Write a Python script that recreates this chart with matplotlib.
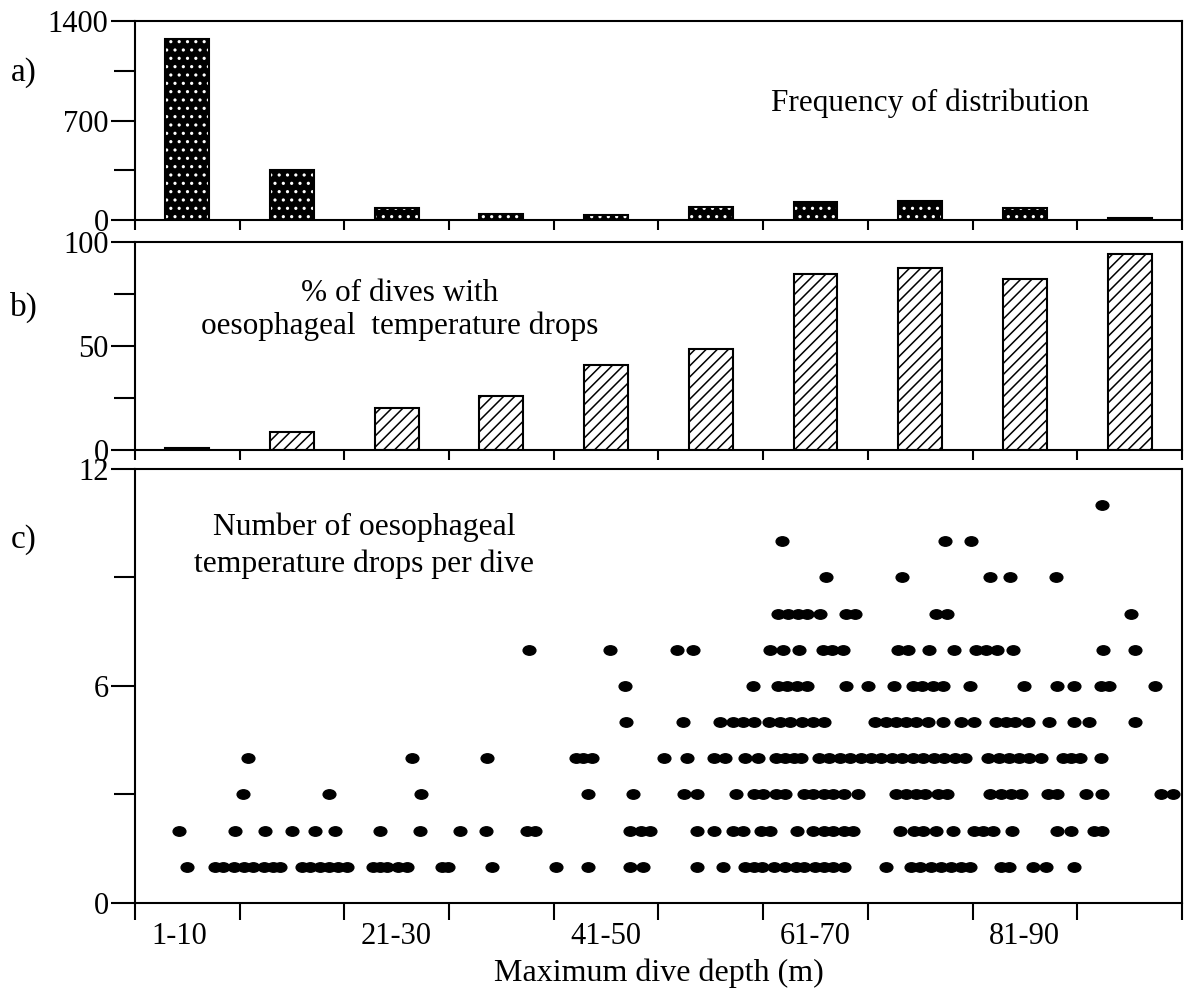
import numpy as np
import matplotlib.pyplot as plt
from matplotlib.markers import MarkerStyle
from matplotlib.transforms import Affine2D

plt.rcParams['font.family'] = ['Liberation Serif', 'DejaVu Serif']
plt.rcParams['hatch.linewidth'] = 1.1

# depth classes (m), bar centres on a 0-100 m axis
bin_centres = [5, 15, 25, 35, 45, 55, 65, 75, 85, 95]
bin_labels = ['1-10', '21-30', '41-50', '61-70', '81-90']
label_starts = [1.6, 21.6, 41.6, 61.6, 81.6]

# a) frequency of dives per depth class
freq = [1270, 352, 84, 42, 35, 91, 129, 136, 84, 16]
# b) % of dives with oesophageal temperature drops
pct_drops = [0.8, 8.5, 20, 26, 41, 48.5, 84.5, 87.5, 82, 94]

# c) max dive depth (m) of dives with n temperature drops
drops1 = [5.0, 7.6, 8.4, 9.5, 10.4, 11.3, 12.3, 13.2, 13.9, 16.0, 16.7, 17.7,
          18.5, 19.4, 20.3, 22.7, 23.4, 24.1, 25.1, 26.0, 29.3, 29.9, 34.1,
          40.2, 43.3, 47.3, 48.5, 53.7, 56.2, 58.3, 59.1, 59.9, 61.0, 62.1,
          63.1, 63.9, 65.0, 65.8, 66.7, 67.7, 71.7, 74.1, 75.0, 76.0, 77.0,
          77.9, 78.9, 79.8, 82.7, 83.5, 85.8, 87.0, 89.7]
drops2 = [4.2, 9.6, 12.4, 15.0, 17.2, 19.1, 23.4, 27.2, 31.0, 33.5, 37.4, 38.2,
          47.3, 48.3, 49.2, 53.7, 55.3, 57.1, 58.1, 59.8, 60.7, 63.2, 64.8,
          65.8, 66.7, 67.7, 68.6, 73.1, 74.4, 75.3, 76.5, 78.1, 80.1, 81.0,
          82.0, 83.8, 88.1, 89.4, 91.6, 92.4]
drops3 = [10.3, 18.5, 27.3, 43.3, 47.6, 52.4, 53.7, 57.4, 59.1, 60.0, 61.2,
          62.1, 63.9, 64.8, 65.8, 66.7, 67.7, 69.1, 72.7, 73.6, 74.6, 75.5,
          76.7, 77.6, 81.7, 82.7, 83.7, 84.6, 87.2, 88.1, 90.8, 92.4, 98.0, 99.1]
drops4 = [10.8, 26.5, 33.6, 42.1, 42.8, 43.7, 50.5, 52.7, 55.3, 56.4, 58.3,
          59.5, 61.2, 62.1, 62.9, 63.6, 65.3, 66.3, 67.3, 68.3, 69.3, 70.3,
          71.3, 72.3, 73.3, 74.3, 75.3, 76.3, 77.3, 78.3, 79.3, 81.5, 82.5,
          83.5, 84.4, 85.4, 86.5, 88.6, 89.4, 90.3, 92.3]
drops5 = [46.9, 52.3, 55.9, 57.1, 58.1, 59.1, 60.6, 61.6, 62.6, 63.7, 64.8,
          65.8, 70.7, 71.7, 72.7, 73.6, 74.6, 75.7, 77.2, 78.9, 80.1, 82.2,
          83.2, 84.1, 85.3, 87.3, 89.7, 91.1, 95.5]
drops6 = [46.8, 59.0, 61.4, 62.3, 63.2, 64.2, 67.9, 70.0, 72.5, 74.3, 75.2,
          76.2, 77.2, 79.8, 84.9, 88.1, 89.7, 92.3, 93.0, 97.4]
drops7 = [37.6, 45.4, 51.8, 53.3, 60.7, 61.9, 63.4, 65.7, 66.6, 67.6, 72.9,
          73.8, 75.8, 78.2, 80.3, 81.3, 82.3, 83.9, 92.5, 95.5]
drops8 = [61.4, 62.4, 63.3, 64.2, 65.4, 67.9, 68.8, 76.5, 77.6, 95.1]
drops9 = [66.0, 73.3, 81.7, 83.6, 88.0]
drops10 = [61.8, 77.4, 79.9]
drops11 = [92.4]
drop_rows = [drops1, drops2, drops3, drops4, drops5, drops6, drops7, drops8,
             drops9, drops10, drops11]

TICK = 22
LW = 1.5


def style_axis(ax, ymax, major, minor, xtick_len):
    ax.set_xlim(0, 100)
    ax.set_ylim(0, ymax)
    ax.set_yticks(major)
    ax.set_yticks(minor, minor=True)
    ax.tick_params(axis='y', which='both', direction='out', width=LW,
                   labelsize=TICK, pad=2)
    ax.tick_params(axis='y', which='major', length=17)
    ax.tick_params(axis='y', which='minor', length=15)
    ax.set_xticks(np.arange(0, 101, 10))
    ax.tick_params(axis='x', which='major', direction='out', width=LW,
                   length=xtick_len, labelbottom=False)
    for s in ax.spines.values():
        s.set_linewidth(LW)


fig = plt.figure(figsize=(11.88, 9.91), dpi=100)
ax_a = fig.add_axes([0.1136, 0.778, 0.8813, 0.2008])
ax_b = fig.add_axes([0.1136, 0.5459, 0.8813, 0.2099])
ax_c = fig.add_axes([0.1136, 0.0888, 0.8813, 0.438])

# a) dark dotted bars
ax_a.bar(bin_centres, freq, width=4.2, color='black', edgecolor='white',
         hatch='..', linewidth=0)
ax_a.bar(bin_centres, freq, width=4.2, facecolor='none', edgecolor='black',
         linewidth=LW)
style_axis(ax_a, 1400, [0, 700, 1400], [350, 1050], 7)
ax_a.text(0.759, 0.585, 'Frequency of distribution', transform=ax_a.transAxes,
          ha='center', va='center', fontsize=22.5)

# b) hatched bars
ax_b.bar(bin_centres, pct_drops, width=4.2, facecolor='white',
         edgecolor='black', hatch='///', linewidth=LW)
style_axis(ax_b, 100, [0, 50, 100], [25, 75], 7)
ax_b.text(0.253, 0.673, '% of dives with\noesophageal  temperature drops',
          transform=ax_b.transAxes, ha='center', va='center', fontsize=22.5,
          linespacing=1.15)

# c) drops per dive
dot = MarkerStyle('o', transform=Affine2D().scale(1.35, 1.0))
for n, depths in enumerate(drop_rows, start=1):
    ax_c.plot(depths, [n] * len(depths), linestyle='none', marker=dot,
              markersize=6.8, color='black')
style_axis(ax_c, 12, [0, 6, 12], [3, 9], 12)
ax_c.set_xticks(label_starts, bin_labels, minor=True)
ax_c.tick_params(axis='x', which='minor', length=0, labelsize=TICK, pad=14)
for lab in ax_c.get_xticklabels(minor=True):
    lab.set_horizontalalignment('left')
ax_c.text(0.219, 0.823, 'Number of oesophageal\ntemperature drops per dive',
          transform=ax_c.transAxes, ha='center', va='center', fontsize=22.8,
          linespacing=1.3)
ax_c.set_xlabel('Maximum dive depth (m)', fontsize=23, labelpad=5)

fig.text(24 / 1188, 1 - 73 / 991, 'a)', ha='center', va='center', fontsize=24)
fig.text(24 / 1188, 1 - 307 / 991, 'b)', ha='center', va='center', fontsize=24)
fig.text(24 / 1188, 1 - 540 / 991, 'c)', ha='center', va='center', fontsize=24)

fig.savefig('out.png', dpi=100)
